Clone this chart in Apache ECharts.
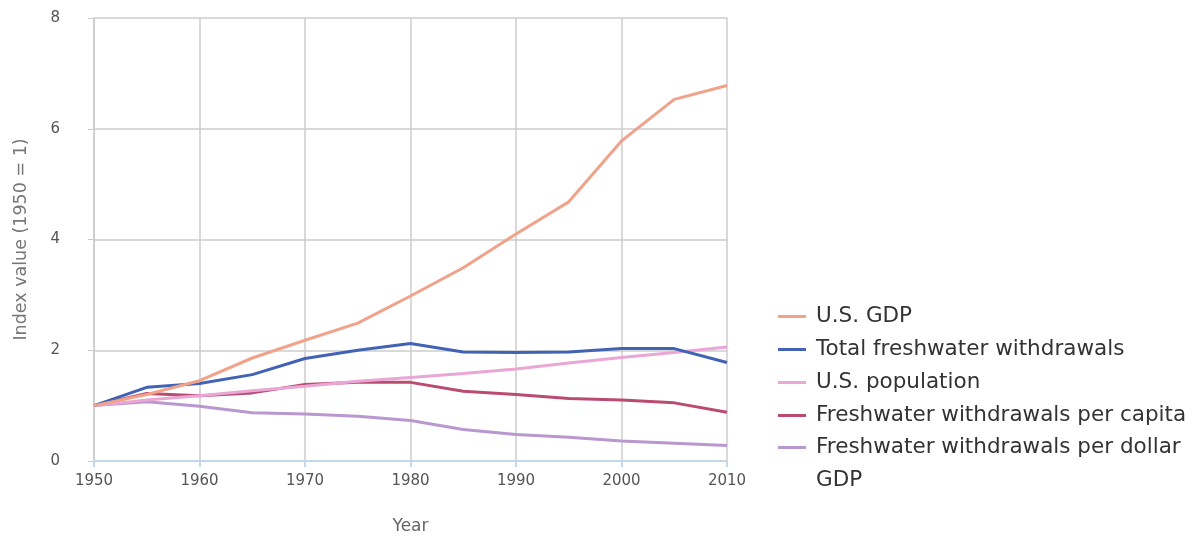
<!DOCTYPE html>
<html>
<head>
    <meta charset="UTF-8">
    <title>Freshwater withdrawals index</title>
    <script src="https://cdn.jsdelivr.net/npm/echarts@6/dist/echarts.min.js"></script>
    <style>
        html, body { margin: 0; padding: 0; background: #fff; }
        #main { width: 1192px; height: 540px; }
    </style>
</head>
<body>
<div id="main"></div>
<script>
    // data, index 1950 = 1
    var years = [1950, 1955, 1960, 1965, 1970, 1975, 1980, 1985, 1990, 1995, 2000, 2005, 2010];
    var gdp = [1.0, 1.2, 1.45, 1.86, 2.18, 2.49, 2.98, 3.49, 4.1, 4.68, 5.78, 6.53, 6.78];
    var totalWithdrawals = [1.0, 1.33, 1.4, 1.56, 1.85, 2.0, 2.12, 1.97, 1.96, 1.97, 2.03, 2.03, 1.78];
    var population = [1.0, 1.1, 1.18, 1.27, 1.35, 1.44, 1.51, 1.58, 1.66, 1.77, 1.87, 1.96, 2.06];
    var perCapita = [1.0, 1.22, 1.18, 1.23, 1.38, 1.42, 1.42, 1.26, 1.2, 1.13, 1.1, 1.05, 0.88];
    var perDollar = [1.0, 1.07, 0.99, 0.87, 0.85, 0.81, 0.73, 0.57, 0.48, 0.43, 0.36, 0.32, 0.28];

    var seriesNames = ['U.S. GDP', 'Total freshwater withdrawals', 'U.S. population',
        'Freshwater withdrawals per capita', 'Freshwater withdrawals per dollar GDP'];
    var seriesData = [gdp, totalWithdrawals, population, perCapita, perDollar];
    var colors = ['#f0a28a', '#4262b4', '#eaa6d4', '#b94c70', '#b997cf'];

    function pairs(vals) {
        return years.map(function (y, i) { return [y, vals[i]]; });
    }

    var myChart = echarts.init(document.getElementById('main'));
    var font = 'DejaVu Sans';
    var legendText = {fontFamily: font, fontSize: 21.5, color: '#333', lineHeight: 33, padding: [0, 0, 0, 5]};

    var legendBase = {
        orient: 'vertical',
        left: 778,
        padding: 0,
        icon: 'rect',
        itemWidth: 28,
        itemHeight: 3,
        itemGap: 0
    };

    myChart.setOption({
        animation: false,
        color: colors,
        grid: {left: 94, right: 465, top: 18, bottom: 79},
        legend: [
            Object.assign({}, legendBase, {
                top: 300,
                textStyle: legendText,
                data: seriesNames.slice(0, 4)
            }),
            // last entry wraps in the reference, with the icon level with its first line;
            // an empty line on top keeps that first line centred on the icon
            Object.assign({}, legendBase, {
                top: 398,
                textStyle: legendText,
                formatter: function (name) {
                    return ' \n' + name.replace(' GDP', '\nGDP');
                },
                data: seriesNames.slice(4)
            })
        ],
        xAxis: {
            type: 'value',
            min: 1950,
            max: 2010,
            interval: 10,
            name: 'Year',
            nameLocation: 'middle',
            nameGap: 57,
            nameTextStyle: {fontFamily: font, fontSize: 17, color: '#666'},
            axisLine: {show: true, lineStyle: {color: '#c5d8ea', width: 2}},
            axisTick: {show: true, length: 6, lineStyle: {color: '#c5d8ea', width: 2}},
            axisLabel: {fontFamily: font, fontSize: 15, color: '#555', margin: 13,
                formatter: function (v) { return String(v); }},
            splitLine: {show: true, lineStyle: {color: '#cccccc', width: 1.5}}
        },
        yAxis: {
            type: 'value',
            min: 0,
            max: 8,
            interval: 2,
            name: 'Index value (1950 = 1)',
            nameLocation: 'middle',
            nameGap: 64,
            nameTextStyle: {fontFamily: font, fontSize: 17.5, color: '#777'},
            axisLine: {show: true, lineStyle: {color: '#cccccc', width: 1.5}},
            axisTick: {show: true, length: 6, lineStyle: {color: '#cccccc'}},
            axisLabel: {fontFamily: font, fontSize: 15, color: '#555', margin: 34},
            splitLine: {show: true, lineStyle: {color: '#cccccc', width: 1.5}}
        },
        series: seriesNames.map(function (name, i) {
            return {
                name: name,
                type: 'line',
                symbol: 'none',
                data: pairs(seriesData[i]),
                lineStyle: {width: 3, color: colors[i]},
                z: 10 - i
            };
        })
    });
</script>
</body>
</html>
